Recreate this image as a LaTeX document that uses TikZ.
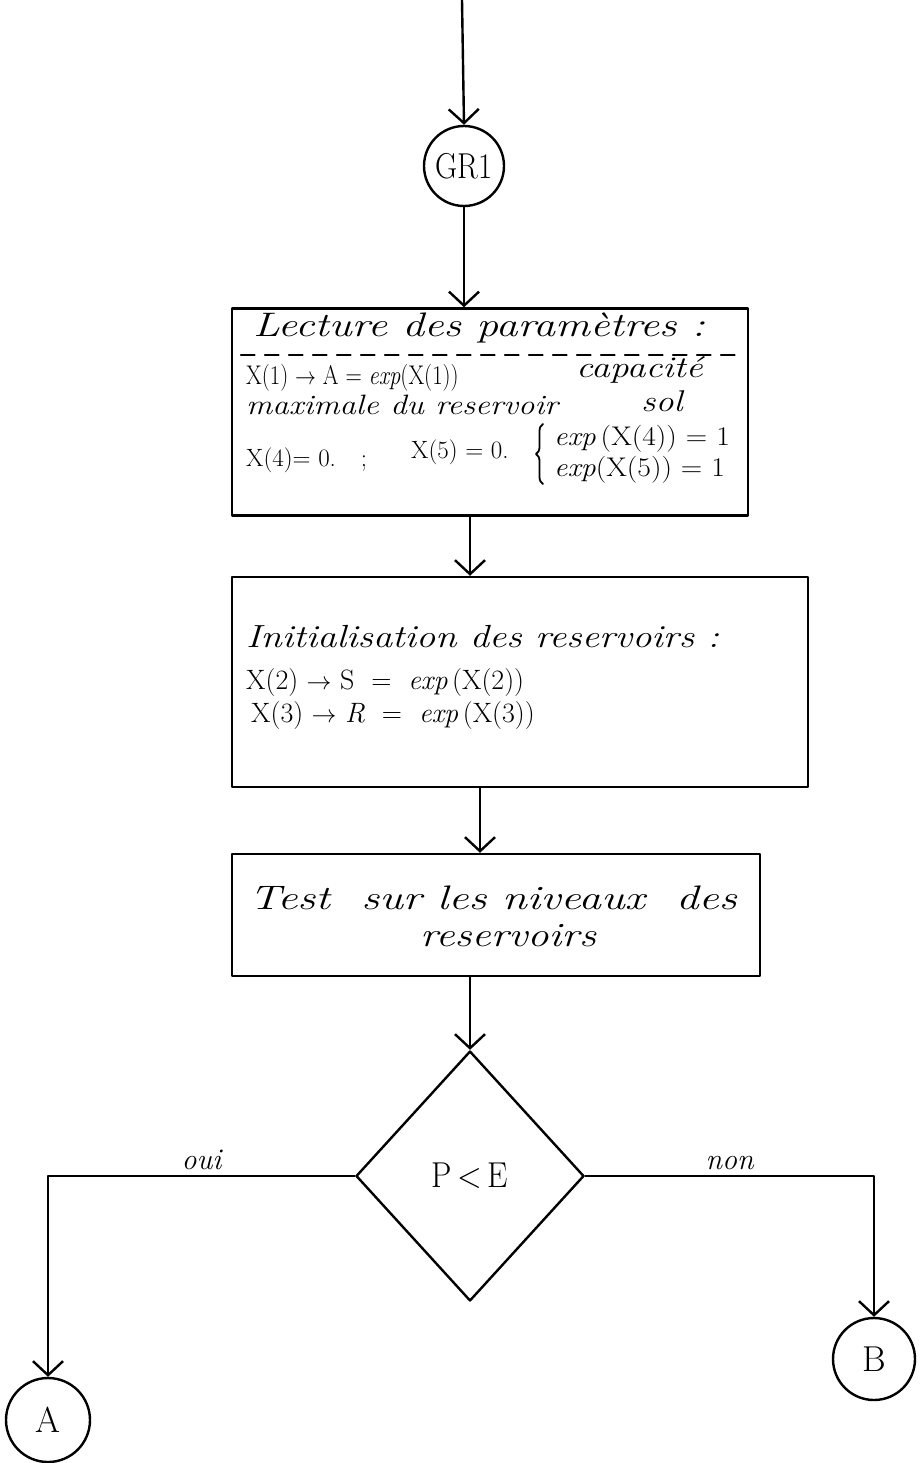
\documentclass[tikz,border=0pt]{standalone}
\usetikzlibrary{arrows.meta,shapes.geometric,calc,decorations.pathreplacing}
% handwriting is wide: stretch a text horizontally
\newcommand{\handw}[2][1.3]{\scalebox{#1}[1]{#2}}
\begin{document}
\begin{tikzpicture}[x=1pt,y=-1pt,
  every path/.style={line width=2.4pt,line cap=round,line join=round},
  arr/.style={-{Straight Barb[length=14pt,width=30pt,line width=2.4pt]}},
  circ/.style={draw,circle,minimum size=80pt,inner sep=0pt,font=\fontsize{36}{40}\selectfont},
  box/.style={draw,rectangle,inner sep=0pt},
  txt/.style={anchor=west,inner sep=0pt,font=\fontsize{25}{28}\selectfont},
  hand/.style={anchor=west,inner sep=0pt,font=\fontsize{34}{38}\selectfont\itshape},
  lbl/.style={inner sep=5pt,font=\fontsize{30}{34}\selectfont\itshape}]
\useasboundingbox (0,0) rectangle (922,1463);

% entry and first connector circle
\coordinate (entry) at (462,0);
\node[circ] (gr1) at (464,166) {\handw[0.85]{GR1}};
\draw[arr] (entry) -- (gr1.north);

% reading of the parameters
\node[box,minimum width=516pt,minimum height=207pt] (b1) at (490,412) {};
\node[hand] (h1) at (252,328) {\handw[1.28]{Lecture des paramètres :}};
\draw[dashed,dash pattern=on 14pt off 10pt,line width=1.6pt] (b1.west |- 0,355) ++(10,0) coordinate (d1) -- ($(b1.east |- 0,355)+(-8,0)$) coordinate (d2);
\node[txt,font=\fontsize{27}{30}\selectfont] (l1a) at (245,378) {\handw[0.84]{X(1) $\rightarrow$ A = \textit{exp}(X(1))}};
\node[hand,font=\fontsize{30}{34}\selectfont\itshape] (l1b) at (575,370) {\handw[1.25]{capacité}};
\node[hand,font=\fontsize{30}{34}\selectfont\itshape] (l2a) at (245,405) {\handw[1.17]{\fontsize{28}{32}\selectfont maximale du reservoir}};
\node[hand,font=\fontsize{30}{34}\selectfont\itshape] (l2b) at (640,401) {\handw[1.2]{sol}};
\node[txt] (l3a) at (245,460) {X(4)= 0.\quad ;};
\node[txt] (l3b) at (410,452) {X(5) = 0.};
\draw[line width=1.8pt,decorate,decoration={brace,amplitude=7pt}] (543,484) coordinate (br1) -- (543,424) coordinate (br2);
\node[txt,font=\fontsize{27}{30}\selectfont] (l3c) at (553,439) {\handw[1.1]{\textit{exp}\,(X(4)) = 1}};
\node[txt,font=\fontsize{27}{30}\selectfont] (l3d) at (553,470) {\handw[1.1]{\textit{exp}(X(5)) = 1}};

% initialisation of the reservoirs
\node[box,minimum width=576pt,minimum height=210pt] (b2) at (520,682) {};
\node[hand,font=\fontsize{32}{36}\selectfont\itshape] (h2) at (245,637) {\handw[1.2]{Initialisation des reservoirs :}};
\node[txt,font=\fontsize{28}{32}\selectfont] (l4) at (245,683) {X(2) $\rightarrow$ S \ = \ \textit{exp}\,(X(2))};
\node[txt,font=\fontsize{28}{32}\selectfont] (l5) at (250,716) {X(3) $\rightarrow$ \textit{R} \ = \ \textit{exp}\,(X(3))};

% test on the reservoir levels
\node[box,minimum width=528pt,minimum height=122pt] (b3) at (496,915) {};
\node[hand] (h3) at (248,898) {\handw[1.32]{Test \ sur les niveaux \ des}};
\node[hand,anchor=center] (h4) at (508,936) {\handw[1.25]{reservoirs}};

% decision
\node[draw,diamond,inner sep=0pt,minimum width=228pt,minimum height=250pt,
      font=\fontsize{36}{40}\selectfont] (dec) at (470,1176) {\handw[0.9]{P\,<\,E}};

% exits
\node[circ,minimum size=84pt] (A) at (48,1420) {A};
\node[circ,minimum size=82pt] (B) at (874,1359) {B};

% connectors
\draw[arr] (gr1.south) -- (gr1.south |- b1.north);
\draw[arr] (b1.south -| 470,0) -- (b2.north -| 470,0);
\draw[arr] (b2.south -| 480,0) -- (b3.north -| 480,0);
\draw[arr] (b3.south -| dec.north) -- (dec.north);
\coordinate (oa) at (dec.west -| A);
\coordinate (ob) at (dec.east -| B);
\draw[arr] (dec.west) -- node[lbl,midway,above] {oui} (oa) -- (A.north);
\draw[arr] (dec.east) -- node[lbl,midway,above] {non} (ob) -- (B.north);
\end{tikzpicture}
\end{document}
